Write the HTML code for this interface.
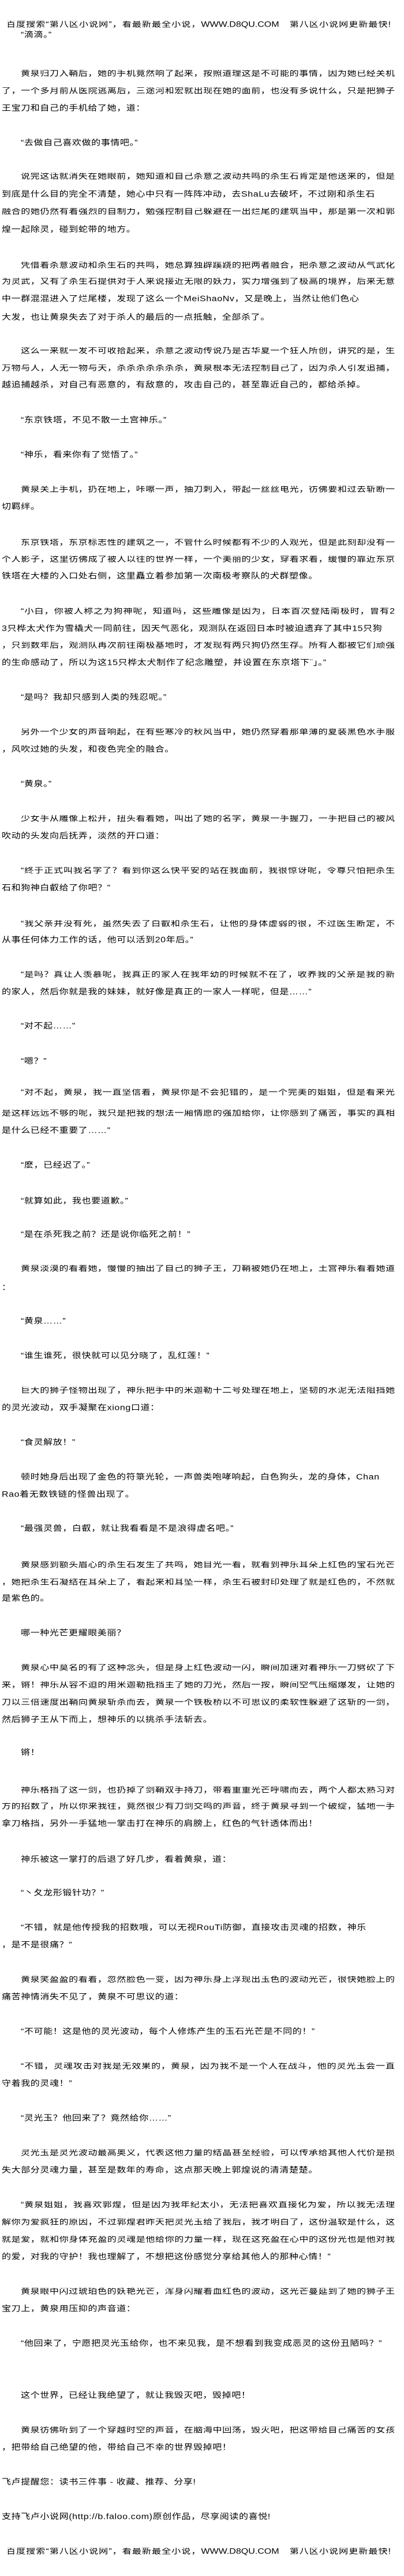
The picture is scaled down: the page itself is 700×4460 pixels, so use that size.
<!DOCTYPE html>
<html><head><meta charset="utf-8">
<style>
html,body{margin:0;padding:0;background:#fff;}
body{width:700px;height:4460px;position:relative;overflow:hidden;color:#000;
font-family:"Liberation Sans","Noto Sans CJK SC",sans-serif;font-size:16px;}
.l{position:absolute;left:3px;height:16px;line-height:16px;white-space:nowrap;letter-spacing:0.6px;transform:scaleY(.85);transform-origin:50% 50%;}
.i{left:36px;}
.f{width:681px;text-align:justify;text-align-last:justify;white-space:normal;overflow:hidden;letter-spacing:0;}
.f.i{width:648px;}
.h{left:11px;width:666px;text-align:justify;text-align-last:justify;white-space:normal;overflow:hidden;letter-spacing:0;}
</style></head><body>
<div class="l h" style="top:35px">百度搜索“第八区小说网”，看最新最全小说，WWW.D8QU.COM　第八区小说网更新最快!</div>
<div class="l i" style="top:53px">“滴滴。”</div>
<div class="l i f" style="top:120px">黄泉归刀入鞘后，她的手机竟然响了起来，按照道理这是不可能的事情，因为她已经关机</div>
<div class="l f" style="top:150px">了，一个多月前从医院逃离后，三途河和宏就出现在她的面前，也没有多说什么，只是把狮子</div>
<div class="l" style="top:180px">王宝刀和自己的手机给了她，道：</div>
<div class="l i" style="top:240px">“去做自己喜欢做的事情吧。”</div>
<div class="l i f" style="top:298px">说完这话就消失在她眼前，她知道和自己杀意之波动共鸣的杀生石肯定是他送来的，但是</div>
<div class="l" style="top:329px">到底是什么目的完全不清楚，她心中只有一阵阵冲动，去ShaLu去破坏，不过刚和杀生石</div>
<div class="l f" style="top:359px">融合的她仍然有着强烈的自制力，勉强控制自己躲避在一出烂尾的建筑当中，那是第一次和郭</div>
<div class="l" style="top:390px">煌一起除灵，碰到蛇带的地方。</div>
<div class="l i f" style="top:452px">凭借着杀意波动和杀生石的共鸣，她总算独辟蹊跷的把两者融合，把杀意之波动从气武化</div>
<div class="l f" style="top:480px">为灵武，又有了杀生石提供对于人来说接近无限的妖力，实力增强到了极高的境界，后来无意</div>
<div class="l" style="top:510px">中一群混混进入了烂尾楼，发现了这么一个MeiShaoNv，又是晚上，当然让他们色心</div>
<div class="l" style="top:542px">大发，也让黄泉失去了对于杀人的最后的一点抵触，全部杀了。</div>
<div class="l i f" style="top:600px">这么一来就一发不可收拾起来，杀意之波动传说乃是古华夏一个狂人所创，讲究的是，生</div>
<div class="l f" style="top:630px">万物与人，人无一物与天，杀杀杀杀杀杀杀，黄泉根本无法控制自己了，因为杀人引发追捕，</div>
<div class="l" style="top:659px">越追捕越杀，对自己有恶意的，有敌意的，攻击自己的，甚至靠近自己的，都给杀掉。</div>
<div class="l i" style="top:720px">“东京铁塔，不见不散一土宫神乐。”</div>
<div class="l i" style="top:780px">“神乐，看来你有了觉悟了。”</div>
<div class="l i f" style="top:840px">黄泉关上手机，扔在地上，咔嚓一声，抽刀刺入，带起一丝丝电光，彷佛要和过去斩断一</div>
<div class="l" style="top:870px">切羁绊。</div>
<div class="l i f" style="top:932px">东京铁塔，东京标志性的建筑之一，不管什么时候都有不少的人观光，但是此刻却没有一</div>
<div class="l f" style="top:961px">个人影子，这里彷佛成了被人以往的世界一样，一个美丽的少女，穿着求着，缓慢的靠近东京</div>
<div class="l" style="top:990px">铁塔在大楼的入口处右侧，这里矗立着参加第一次南极考察队的犬群塑像。</div>
<div class="l i f" style="top:1051px">“小白，你被人称之为狗神呢，知道吗，这些雕像是因为，日本首次登陆南极时，曾有2</div>
<div class="l" style="top:1081px">3只桦太犬作为雪橇犬一同前往，因天气恶化，观测队在返回日本时被迫遗弃了其中15只狗</div>
<div class="l f" style="top:1110px">，只到数年后，观测队再次前往南极基地时，才发现有两只狗仍然生存。所有人都被它们顽强</div>
<div class="l" style="top:1140px">的生命感动了，所以为这15只桦太犬制作了纪念雕塑，并设置在东京塔下¨」。”</div>
<div class="l i" style="top:1200px">“是吗？我却只感到人类的残忍呢。”</div>
<div class="l i f" style="top:1260px">另外一个少女的声音响起，在有些寒冷的秋风当中，她仍然穿着那单薄的夏装黑色水手服</div>
<div class="l" style="top:1290px">，风吹过她的头发，和夜色完全的融合。</div>
<div class="l i" style="top:1350px">“黄泉。”</div>
<div class="l i f" style="top:1410px">少女手从雕像上松开，扭头看着她，叫出了她的名字，黄泉一手握刀，一手把自己的被风</div>
<div class="l" style="top:1440px">吹动的头发向后抚弄，淡然的开口道：</div>
<div class="l i f" style="top:1500px">“终于正式叫我名字了？看到你这么快平安的站在我面前，我很惊讶呢，令尊只怕把杀生</div>
<div class="l" style="top:1530px">石和狗神白叡给了你吧？”</div>
<div class="l i f" style="top:1592px">“我父亲并没有死，虽然失去了白叡和杀生石，让他的身体虚弱的很，不过医生断定，不</div>
<div class="l" style="top:1620px">从事任何体力工作的话，他可以活到20年后。”</div>
<div class="l i f" style="top:1680px">“是吗？真让人羡慕呢，我真正的家人在我年幼的时候就不在了，收养我的父亲是我的新</div>
<div class="l" style="top:1710px">的家人，然后你就是我的妹妹，就好像是真正的一家人一样呢，但是……”</div>
<div class="l i" style="top:1769px">“对不起……”</div>
<div class="l i" style="top:1830px">“嗯？”</div>
<div class="l i f" style="top:1884px">“对不起，黄泉，我一直坚信着，黄泉你是不会犯错的，是一个完美的姐姐，但是看来光</div>
<div class="l f" style="top:1920px">是这样远远不够的呢，我只是把我的想法一厢情愿的强加给你，让你感到了痛苦，事实的真相</div>
<div class="l" style="top:1950px">是什么已经不重要了……”</div>
<div class="l i" style="top:2010px">“麽，已经迟了。”</div>
<div class="l i" style="top:2072px">“就算如此，我也要道歉。”</div>
<div class="l i" style="top:2130px">“是在杀死我之前？还是说你临死之前！”</div>
<div class="l i f" style="top:2189px">黄泉淡漠的看着她，慢慢的抽出了自己的狮子王，刀鞘被她仍在地上，土宫神乐看着她道</div>
<div class="l" style="top:2222px">：</div>
<div class="l i" style="top:2280px">“黄泉……”</div>
<div class="l i" style="top:2340px">“谁生谁死，很快就可以见分晓了，乱红莲！”</div>
<div class="l i f" style="top:2400px">巨大的狮子怪物出现了，神乐把手中的米迦勒十二号处理在地上，坚韧的水泥无法阻挡她</div>
<div class="l" style="top:2430px">的灵光波动，双手凝聚在xiong口道：</div>
<div class="l i" style="top:2490px">“食灵解放！”</div>
<div class="l i" style="top:2550px">顿时她身后出现了金色的符箓光轮，一声兽类咆哮响起，白色狗头，龙的身体，Chan</div>
<div class="l" style="top:2580px">Rao着无数铁链的怪兽出现了。</div>
<div class="l i" style="top:2639px">“最强灵兽，白叡，就让我看看是不是浪得虚名吧。”</div>
<div class="l i f" style="top:2702px">黄泉感到额头眉心的杀生石发生了共鸣，她目光一看，就看到神乐耳朵上红色的宝石光芒</div>
<div class="l f" style="top:2732px">，她把杀生石凝结在耳朵上了，看起来和耳坠一样，杀生石被封印处理了就是红色的，不然就</div>
<div class="l" style="top:2760px">是紫色的。</div>
<div class="l i" style="top:2820px">哪一种光芒更耀眼美丽？</div>
<div class="l i f" style="top:2880px">黄泉心中莫名的有了这种念头，但是身上红色波动一闪，瞬间加速对着神乐一刀劈砍了下</div>
<div class="l f" style="top:2910px">来，锵！神乐从容不迫的用米迦勒抵挡主了她的刀光，然后一按，瞬间空气压缩爆发，让她的</div>
<div class="l f" style="top:2940px">刀以三倍速度出鞘向黄泉斩杀而去，黄泉一个铁板桥以不可思议的柔软性躲避了这斩的一剑，</div>
<div class="l" style="top:2970px">然后狮子王从下而上，想神乐的以挑杀手法斩去。</div>
<div class="l i" style="top:3027px">锵！</div>
<div class="l i f" style="top:3092px">神乐格挡了这一剑，也扔掉了剑鞘双手持刀，带着重重光芒呼啸而去，两个人都太熟习对</div>
<div class="l f" style="top:3120px">方的招数了，所以你来我往，竟然很少有刀剑交鸣的声音，终于黄泉寻到一个破绽，猛地一手</div>
<div class="l" style="top:3150px">拿刀格挡，另外一手猛地一掌击打在神乐的肩膀上，红色的气针透体而出！</div>
<div class="l i" style="top:3212px">神乐被这一掌打的后退了好几步，看着黄泉，道：</div>
<div class="l i" style="top:3270px">“丶夂龙形锻针功？”</div>
<div class="l i" style="top:3330px">“不错，就是他传授我的招数哦，可以无视RouTi防御，直接攻击灵魂的招数，神乐</div>
<div class="l" style="top:3360px">，是不是很痛？”</div>
<div class="l i f" style="top:3420px">黄泉笑盈盈的看着，忽然脸色一变，因为神乐身上浮现出玉色的波动光芒，很快她脸上的</div>
<div class="l" style="top:3450px">痛苦神情消失不见了，黄泉不可思议的道：</div>
<div class="l i" style="top:3510px">“不可能！这是他的灵光波动，每个人修炼产生的玉石光芒是不同的！”</div>
<div class="l i f" style="top:3570px">“不错，灵魂攻击对我是无效果的，黄泉，因为我不是一个人在战斗，他的灵光玉会一直</div>
<div class="l" style="top:3600px">守着我的灵魂！”</div>
<div class="l i" style="top:3660px">“灵光玉？他回来了？竟然给你……”</div>
<div class="l i f" style="top:3720px">灵光玉是灵光波动最高奥义，代表这他力量的结晶甚至经验，可以传承给其他人代价是损</div>
<div class="l" style="top:3750px">失大部分灵魂力量，甚至是数年的寿命，这点那天晚上郭煌说的清清楚楚。</div>
<div class="l i f" style="top:3810px">“黄泉姐姐，我喜欢郭煌，但是因为我年纪太小，无法把喜欢直接化为爱，所以我无法理</div>
<div class="l f" style="top:3840px">解你为爱疯狂的原因，不过郭煌君昨天把灵光玉给了我后，我才明白了，这份温软是什么，这</div>
<div class="l f" style="top:3870px">就是爱，就和你身体充盈的灵魂是他给你的力量一样，现在这充盈在心中的这份光也是他对我</div>
<div class="l" style="top:3900px">的爱，对我的守护！我也理解了，不想把这份感觉分享给其他人的那种心情！”</div>
<div class="l i f" style="top:3960px">黄泉眼中闪过琥珀色的妖艳光芒，浑身闪耀着血红色的波动，这光芒蔓延到了她的狮子王</div>
<div class="l" style="top:3990px">宝刀上，黄泉用压抑的声音道：</div>
<div class="l i" style="top:4050px">“他回来了，宁愿把灵光玉给你，也不来见我，是不想看到我变成恶灵的这份丑陋吗？”</div>
<div class="l i" style="top:4140px">这个世界，已经让我绝望了，就让我毁灭吧，毁掉吧！</div>
<div class="l i f" style="top:4200px">黄泉彷佛听到了一个穿越时空的声音，在脑海中回荡，毁灭吧，把这带给自己痛苦的女孩</div>
<div class="l" style="top:4230px">，把带给自己绝望的他，带给自己不幸的世界毁掉吧！</div>
<div class="l" style="top:4290px">飞卢提醒您：读书三件事 - 收藏、推荐、分享!</div>
<div class="l" style="top:4350px">支持飞卢小说网(http://b.faloo.com)原创作品，尽享阅读的喜悦!</div>
<div class="l h" style="top:4410px">百度搜索“第八区小说网”，看最新最全小说，WWW.D8QU.COM　第八区小说网更新最快!</div>
</body></html>
